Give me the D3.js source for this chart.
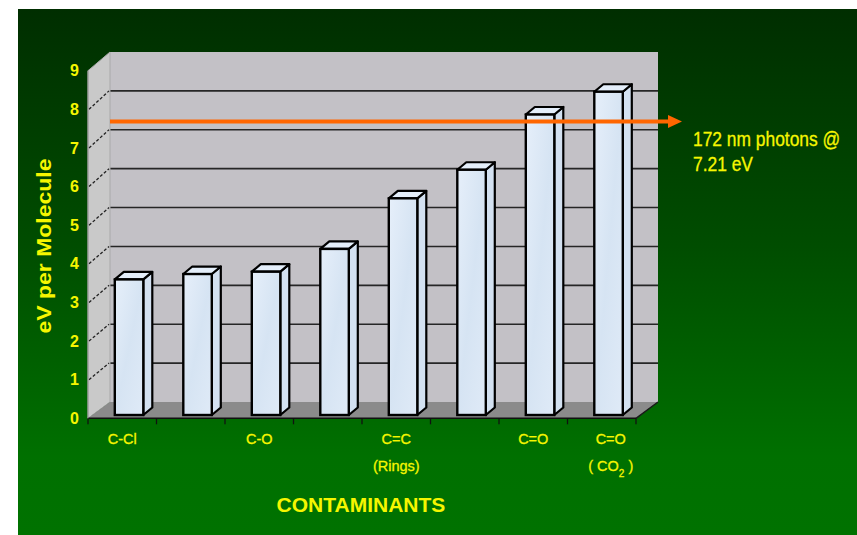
<!DOCTYPE html>
<html>
<head>
<meta charset="utf-8">
<script src="https://cdn.jsdelivr.net/npm/d3@7"></script>
<style>
  html, body { margin: 0; padding: 0; background: #ffffff; }
  svg { display: block; }
  text { font-family: "Liberation Sans", Arial, sans-serif; }
</style>
</head>
<body>
<svg id="chart" width="857" height="535"></svg>
<script>
// Bond energies of common contaminant bonds (eV per molecule)
const categories = ["C-Cl", "", "C-O", "", "C=C", "", "C=O", "C=O"];
const subLabels  = ["", "", "", "", "(Rings)", "", "", "( CO2 )"];
const values     = [3.51, 3.65, 3.71, 4.30, 5.61, 6.35, 7.78, 8.37];
const yTicks     = [0, 1, 2, 3, 4, 5, 6, 7, 8, 9];
const photonEnergy = 7.21;
const photonLabel  = ["172 nm photons @", "7.21 eV"];
const yTitle = "eV per Molecule";
const xTitle = "CONTAMINANTS";

const svg = d3.select("#chart");
const W = 857, H = 535;
const yellow = "#f6f600";

// ---- background -------------------------------------------------------
const defs = svg.append("defs");
const bg = defs.append("linearGradient").attr("id", "bgGrad")
  .attr("x1", 0).attr("y1", 0).attr("x2", 0).attr("y2", 1);
bg.append("stop").attr("offset", "0%").attr("stop-color", "#002e00");
bg.append("stop").attr("offset", "45%").attr("stop-color", "#004d00");
bg.append("stop").attr("offset", "85%").attr("stop-color", "#007000");
bg.append("stop").attr("offset", "100%").attr("stop-color", "#007200");

const barGrad = defs.append("linearGradient").attr("id", "barFront")
  .attr("x1", 0).attr("y1", 0).attr("x2", 1).attr("y2", 1);
barGrad.append("stop").attr("offset", "0%").attr("stop-color", "#e6effa");
barGrad.append("stop").attr("offset", "50%").attr("stop-color", "#d6e4f3");
barGrad.append("stop").attr("offset", "100%").attr("stop-color", "#dfeaf7");

svg.append("rect").attr("x", 18).attr("y", 9)
  .attr("width", W - 18).attr("height", H - 9)
  .attr("fill", "url(#bgGrad)");

// ---- 3D frame geometry ------------------------------------------------
const frontLeft = 88, frontRight = 636;
const depthX = 22;
const yFront = d3.scaleLinear().domain([0, 9]).range([418.3, 70.7]);
const yBack  = d3.scaleLinear().domain([0, 9]).range([402, 52]);
const yBar   = d3.scaleLinear().domain([0, 9]).range([415, 67.4]);
const x = d3.scaleBand().domain(d3.range(categories.length))
  .range([frontLeft, frontRight]);

const backL = frontLeft + depthX, backR = frontRight + depthX;
const pts = a => a.map(p => p.join(",")).join(" ");

// back wall
svg.append("rect")
  .attr("x", backL).attr("y", yBack(9))
  .attr("width", backR - backL).attr("height", yBack(0) - yBack(9))
  .attr("fill", "#c3c1c6");

// gridlines on the back wall
svg.append("g").selectAll("line").data(yTicks.filter(d => d > 0 && d < 9))
  .join("line")
  .attr("x1", backL).attr("x2", backR)
  .attr("y1", d => yBack(d)).attr("y2", d => yBack(d))
  .attr("stroke", "#262626").attr("stroke-width", 1.6);

// side wall
svg.append("polygon")
  .attr("points", pts([
    [frontLeft, yFront(0)], [frontLeft, yFront(9)],
    [backL, yBack(9)], [backL, yBack(0)]
  ]))
  .attr("fill", "#c9c9c9").attr("stroke", "#a9a9a9").attr("stroke-width", 1);

// dashed guides across the side wall
svg.append("g").selectAll("line").data(yTicks.filter(d => d > 0 && d < 9))
  .join("line")
  .attr("x1", frontLeft + 1).attr("y1", d => yFront(d))
  .attr("x2", backL - 1).attr("y2", d => yBack(d))
  .attr("stroke", "#222").attr("stroke-width", 1.3)
  .attr("stroke-dasharray", "3,2");

// floor
svg.append("polygon")
  .attr("points", pts([
    [frontLeft, yFront(0)], [frontRight, yFront(0)],
    [backR, yBack(0)], [backL, yBack(0)]
  ]))
  .attr("fill", "#8b8b8b");

// floor right edge
svg.append("line")
  .attr("x1", frontRight).attr("y1", yFront(0))
  .attr("x2", backR).attr("y2", yBack(0))
  .attr("stroke", "#1a1a1a").attr("stroke-width", 1.5);

// ---- bars ---------------------------------------------------------------
const barOffset = 26.8, barW = 28.5, bdx = 9, bdy = 7.5;
const bars = svg.append("g").selectAll("g").data(values).join("g");

bars.append("polygon")   // side face
  .attr("points", (d, i) => {
    const x1 = x(i) + barOffset + barW, yt = yBar(d), yb = yBar(0);
    return pts([[x1, yt], [x1 + bdx, yt - bdy], [x1 + bdx, yb - bdy], [x1, yb]]);
  })
  .attr("fill", "#d3e1f1").attr("stroke", "#000").attr("stroke-width", 2.2)
  .attr("stroke-linejoin", "round");

bars.append("polygon")   // top face
  .attr("points", (d, i) => {
    const x0 = x(i) + barOffset, x1 = x0 + barW, yt = yBar(d);
    return pts([[x0, yt], [x1, yt], [x1 + bdx, yt - bdy], [x0 + bdx, yt - bdy]]);
  })
  .attr("fill", "#e4eefa").attr("stroke", "#000").attr("stroke-width", 2.2)
  .attr("stroke-linejoin", "round");

bars.append("rect")      // front face
  .attr("x", (d, i) => x(i) + barOffset)
  .attr("y", d => yBar(d))
  .attr("width", barW)
  .attr("height", d => yBar(0) - yBar(d))
  .attr("fill", "url(#barFront)").attr("stroke", "#000").attr("stroke-width", 2.4);

// ---- photon energy arrow -----------------------------------------------
const arrowY = yBack(photonEnergy);
const arrowTip = 682, headLen = 14, headHalf = 6.5;
svg.append("line")
  .attr("x1", backL).attr("x2", arrowTip - headLen + 1)
  .attr("y1", arrowY).attr("y2", arrowY)
  .attr("stroke", "#ff6600").attr("stroke-width", 4);
svg.append("polygon")
  .attr("points", pts([[arrowTip, arrowY], [arrowTip - headLen, arrowY - headHalf],
                       [arrowTip - headLen, arrowY + headHalf]]))
  .attr("fill", "#ff6600");

const note = svg.append("text")
  .attr("transform", `translate(693,146) scale(0.87,1)`)
  .attr("fill", yellow).attr("font-size", 20)
  .attr("stroke", yellow).attr("stroke-width", 0.3);
note.selectAll("tspan").data(photonLabel).join("tspan")
  .attr("x", 0).attr("dy", (d, i) => i ? 25 : 0)
  .text(d => d);

// ---- axes ---------------------------------------------------------------
// x axis line and band-boundary ticks
svg.append("line")
  .attr("x1", frontLeft).attr("x2", frontRight)
  .attr("y1", yFront(0)).attr("y2", yFront(0))
  .attr("stroke", "#111").attr("stroke-width", 1.5);
const bounds = x.domain().map(i => x(i)).concat([frontRight]);
svg.append("g").selectAll("line").data(bounds).join("line")
  .attr("x1", d => d).attr("x2", d => d)
  .attr("y1", yFront(0)).attr("y2", yFront(0) + 6)
  .attr("stroke", "#111").attr("stroke-width", 1.3);

// the last category's labels sit a little right of the band centre
const labelShift = i => (i === categories.length - 1 ? 9 : 0);

// category labels
const xAxis = d3.axisBottom(x).tickSize(0).tickPadding(0)
  .tickFormat(i => categories[i]);
const gx = svg.append("g").attr("transform", `translate(0,${yFront(0)})`).call(xAxis);
gx.select(".domain").remove();
gx.selectAll("text")
  .attr("x", i => labelShift(i))
  .attr("y", 26).attr("dy", 0)
  .attr("fill", yellow).attr("font-size", 14.5)
  .attr("stroke", yellow).attr("stroke-width", 0.3)
  .attr("font-family", "'Liberation Sans', Arial, sans-serif");

// second label line (with subscripts for formula digits)
svg.append("g").selectAll("text").data(subLabels).join("text")
  .attr("x", (d, i) => x(i) + x.bandwidth() / 2 + labelShift(i))
  .attr("y", yFront(0) + 53)
  .attr("text-anchor", "middle")
  .attr("fill", yellow).attr("font-size", 14.5)
  .attr("stroke", yellow).attr("stroke-width", 0.3)
  .each(function (d) {
    const t = d3.select(this);
    d.split(/(\d)/).forEach(part => {
      if (!part) return;
      if (/^\d$/.test(part)) {
        t.append("tspan").attr("font-size", 10).attr("baseline-shift", "sub").text(part);
      } else {
        t.append("tspan").text(part);
      }
    });
  });

// y axis tick labels
const yAxis = d3.axisLeft(yFront).tickValues(yTicks).tickSize(0).tickPadding(9)
  .tickFormat(d3.format("d"));
const gy = svg.append("g").attr("transform", `translate(${frontLeft},0)`).call(yAxis);
gy.select(".domain").remove();
gy.selectAll("text")
  .attr("fill", yellow).attr("font-size", 16).attr("font-weight", "bold")
  .attr("font-family", "'Liberation Sans', Arial, sans-serif");

// side wall front edge
svg.append("line")
  .attr("x1", frontLeft).attr("x2", frontLeft)
  .attr("y1", yFront(9)).attr("y2", yFront(0))
  .attr("stroke", "#9a9a9a").attr("stroke-width", 1);

// axis titles
svg.append("text")
  .attr("transform", "translate(51,246) rotate(-90) scale(1,0.87)")
  .attr("text-anchor", "middle")
  .attr("fill", yellow).attr("font-size", 23).attr("font-weight", "bold")
  .text(yTitle);

svg.append("text")
  .attr("x", 361).attr("y", 512)
  .attr("text-anchor", "middle")
  .attr("fill", yellow).attr("font-size", 21).attr("font-weight", "bold")
  .text(xTitle);
</script>
</body>
</html>
